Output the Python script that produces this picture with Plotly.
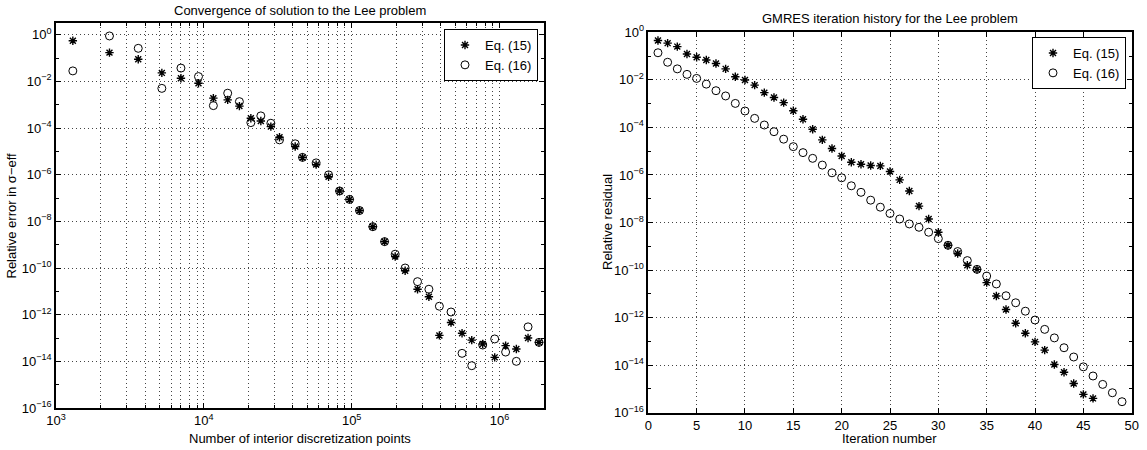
import plotly.graph_objects as go

# ---------------- data: left panel ----------------
n_points = [1300, 2300, 3600, 5200, 7000, 9200, 11600, 14500, 17400, 20800,
            24300, 28400, 32500, 41500, 46500, 57500, 69800, 82800, 96800, 113000,
            139000, 167000, 197000, 230000, 279000, 333000, 392000, 470000, 558000, 649000,
            770000, 928000, 1.10e6, 1.30e6, 1.56e6, 1.85e6]
err_eq15 = [5.5e-1, 1.7e-1, 8.8e-2, 2.3e-2, 1.35e-2, 8.3e-3, 1.9e-3, 1.6e-3, 8.7e-4, 2.6e-4,
            2.0e-4, 1.15e-4, 4.0e-5, 1.6e-5, 5.5e-6, 2.7e-6, 8.1e-7, 2.0e-7, 8.7e-8, 2.9e-8,
            5.9e-9, 1.35e-9, 3.1e-10, 7.6e-11, 1.23e-11, 5.9e-12, 1.29e-13, 4.6e-13, 1.6e-13, 8.1e-14,
            5.5e-14, 1.48e-14, 4.7e-14, 3.4e-14, 1.0e-13, 6.5e-14]
err_eq16 = [2.8e-2, 8.8e-1, 2.6e-1, 5.0e-3, 3.7e-2, 1.6e-2, 9.1e-4, 3.1e-3, 1.35e-3, 1.7e-4,
            3.3e-4, 1.6e-4, 3.1e-5, 2.1e-5, 5.5e-6, 3.2e-6, 9.8e-7, 2.0e-7, 8.7e-8, 2.9e-8,
            5.9e-9, 1.35e-9, 3.9e-10, 1.0e-10, 2.6e-11, 1.23e-11, 2.3e-12, 1.3e-12, 2.2e-14, 6.5e-15,
            5.0e-14, 9.1e-14, 2.5e-14, 1.0e-14, 3.0e-13, 6.5e-14]

# ---------------- data: right panel ----------------
iter_eq15 = list(range(1, 47))
res_eq15 = [4.5e-1, 3.5e-1, 2.5e-1, 1.23e-1, 8.9e-2, 6.8e-2, 4.9e-2, 2.9e-2, 1.35e-2, 9.8e-3,
            6.0e-3, 2.9e-3, 1.8e-3, 1.1e-3, 5.0e-4, 2.2e-4, 8.3e-5, 3.0e-5, 1.3e-5, 6.3e-6,
            3.4e-6, 2.8e-6, 2.5e-6, 2.4e-6, 1.4e-6, 6.2e-7, 2.1e-7, 4.9e-8, 1.4e-8, 3.9e-9,
            1.1e-9, 5.0e-10, 1.6e-10, 1.07e-10, 2.95e-11, 8.1e-12, 2.2e-12, 5.8e-13, 2.2e-13, 9.5e-14,
            4.3e-14, 1.07e-14, 5.0e-15, 1.7e-15, 5.9e-16, 4.0e-16]
iter_eq16 = list(range(1, 50))
res_eq16 = [1.38e-1, 5.5e-2, 2.9e-2, 1.7e-2, 1.15e-2, 6.6e-3, 3.5e-3, 2.1e-3, 1.02e-3, 4.9e-4,
            2.4e-4, 1.26e-4, 6.6e-5, 3.2e-5, 1.55e-5, 8.7e-6, 5.0e-6, 2.6e-6, 1.23e-6, 7.6e-7,
            3.5e-7, 1.86e-7, 8.7e-8, 4.4e-8, 2.4e-8, 1.4e-8, 8.7e-9, 6.3e-9, 3.9e-9, 2.1e-9,
            1.1e-9, 6.0e-10, 2.5e-10, 1.07e-10, 5.6e-11, 2.6e-11, 8.3e-12, 4.2e-12, 1.86e-12, 7.9e-13,
            3.2e-13, 1.4e-13, 5.4e-14, 2.2e-14, 8.5e-15, 3.5e-15, 1.55e-15, 6.9e-16, 2.9e-16]

# ---------------- tick labels ----------------
y_major_vals = [1e0, 1e-2, 1e-4, 1e-6, 1e-8, 1e-10, 1e-12, 1e-14, 1e-16]
y_major_text = ["10<sup>0</sup>", "10<sup>−2</sup>", "10<sup>−4</sup>", "10<sup>−6</sup>",
                "10<sup>−8</sup>", "10<sup>−10</sup>", "10<sup>−12</sup>", "10<sup>−14</sup>",
                "10<sup>−16</sup>"]
y_minor_vals = [1e-1, 1e-3, 1e-5, 1e-7, 1e-9, 1e-11, 1e-13, 1e-15]
x_major_vals = [1e3, 1e4, 1e5, 1e6]
x_major_text = ["10<sup>3</sup>", "10<sup>4</sup>", "10<sup>5</sup>", "10<sup>6</sup>"]
x_minor_vals = [m * d for d in (1e3, 1e4, 1e5) for m in range(2, 10)] + [2e6]

W, H = 1147, 450
FONT = "Liberation Sans, Arial, Helvetica, sans-serif"
FS = 13
GRIDC = "#444444"
DOT = "1px,3px"

fig = go.Figure()

star = dict(symbol="asterisk-open", size=7, color="black", line=dict(color="black", width=1.4))
circ = dict(symbol="circle-open", size=8, color="black", line=dict(color="black", width=1))

fig.add_trace(go.Scatter(x=n_points, y=err_eq15, mode="markers", name="Eq. (15)",
                         marker=star, xaxis="x", yaxis="y", legend="legend"))
fig.add_trace(go.Scatter(x=n_points, y=err_eq16, mode="markers", name="Eq. (16)",
                         marker=circ, xaxis="x", yaxis="y", legend="legend"))
fig.add_trace(go.Scatter(x=iter_eq15, y=res_eq15, mode="markers", name="Eq. (15)",
                         marker=star, xaxis="x2", yaxis="y2", legend="legend2"))
fig.add_trace(go.Scatter(x=iter_eq16, y=res_eq16, mode="markers", name="Eq. (16)",
                         marker=circ, xaxis="x2", yaxis="y2", legend="legend2"))

def px_x(p):
    return p / W

def px_y(p):
    return 1 - p / H

common = dict(showline=True, linecolor="black", linewidth=1.5, mirror="allticks",
              ticks="inside", ticklen=5, tickcolor="black", zeroline=False,
              showgrid=True, gridcolor=GRIDC, griddash=DOT, gridwidth=1,
              tickfont=dict(family=FONT, size=FS, color="black"), automargin=False)

fig.update_layout(
    width=W, height=H,
    margin=dict(l=0, r=0, t=0, b=0),
    paper_bgcolor="white", plot_bgcolor="white",
    font=dict(family=FONT, size=FS, color="black"),
    xaxis=dict(type="log", domain=[px_x(56), px_x(544)], range=[3, 6.301],
               tickmode="array", tickvals=x_major_vals, ticktext=x_major_text,
               minor=dict(tickmode="array", tickvals=x_minor_vals, ticks="inside", ticklen=3,
                          tickcolor="black", showgrid=True, gridcolor=GRIDC, griddash=DOT),
               anchor="y", **common),
    yaxis=dict(type="log", domain=[px_y(408), px_y(23)], range=[-16, 0.5],
               tickmode="array", tickvals=y_major_vals, ticktext=y_major_text,
               minor=dict(tickmode="array", tickvals=y_minor_vals, ticks="inside", ticklen=3,
                          tickcolor="black", showgrid=False),
               anchor="x", **common),
    xaxis2=dict(domain=[px_x(648.3), px_x(1131.7)], range=[0, 50],
                tickmode="array", tickvals=[0, 5, 10, 15, 20, 25, 30, 35, 40, 45, 50],
                anchor="y2", **common),
    yaxis2=dict(type="log", domain=[px_y(412.7), px_y(32.3)], range=[-16, 0],
                tickmode="array", tickvals=y_major_vals, ticktext=y_major_text,
                minor=dict(tickmode="array", tickvals=y_minor_vals, ticks="inside", ticklen=3,
                           tickcolor="black", showgrid=False),
                anchor="x2", **common),
    legend=dict(x=px_x(538), y=px_y(29), xanchor="right", yanchor="top",
                bgcolor="white", bordercolor="black", borderwidth=1,
                font=dict(family=FONT, size=FS, color="black"),
                tracegroupgap=0, itemwidth=30),
    legend2=dict(x=px_x(1126), y=px_y(37), xanchor="right", yanchor="top",
                 bgcolor="white", bordercolor="black", borderwidth=1,
                 font=dict(family=FONT, size=FS, color="black"),
                 tracegroupgap=0, itemwidth=30),
    showlegend=True,
)

ann = [
    dict(text="Convergence of solution to the Lee problem", x=px_x(300), y=px_y(10)),
    dict(text="GMRES iteration history for the Lee problem", x=px_x(890), y=px_y(18)),
    dict(text="Number of interior discretization points", x=px_x(300), y=px_y(438)),
    dict(text="Iteration number", x=px_x(890), y=px_y(438)),
    dict(text="Relative error in σ−eff", x=px_x(11), y=px_y(215.5), textangle=-90),
    dict(text="Relative residual", x=px_x(607), y=px_y(222), textangle=-90),
]
for a in ann:
    fig.add_annotation(xref="paper", yref="paper", showarrow=False,
                       xanchor="center", yanchor="middle",
                       font=dict(family=FONT, size=FS, color="black"), **a)

fig.write_html("out.html",
               config={"displayModeBar": False},
               post_script="document.body.style.margin='0';document.body.style.padding='0';")
